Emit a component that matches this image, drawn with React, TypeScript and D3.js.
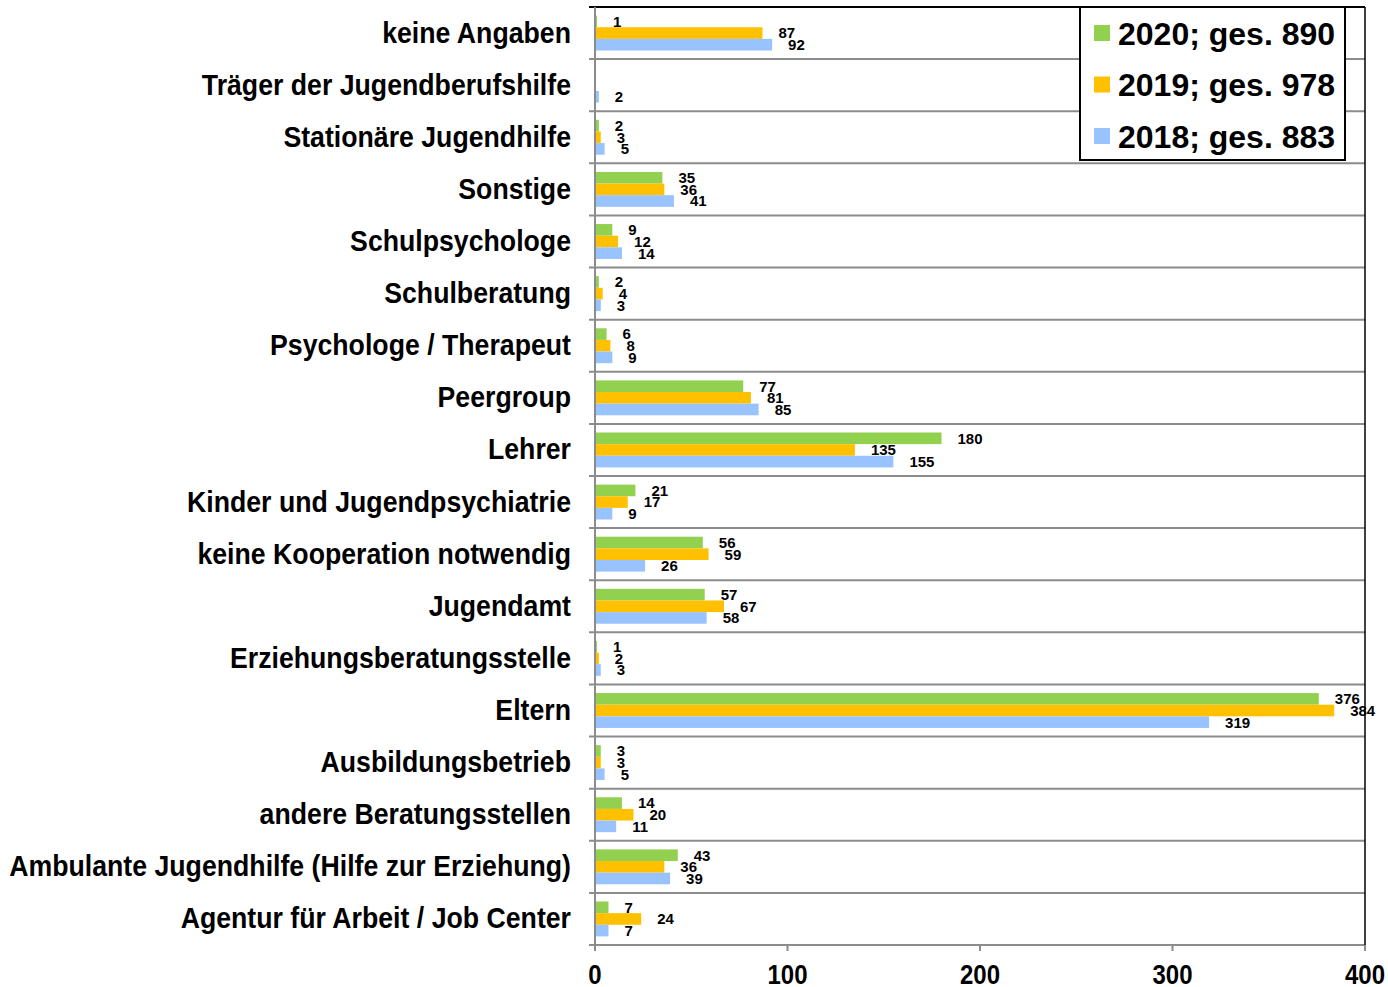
import React from 'react';
import * as d3 from 'd3';

// categories, top to bottom
const categories = [
  'keine Angaben',
  'Träger der Jugendberufshilfe',
  'Stationäre Jugendhilfe',
  'Sonstige',
  'Schulpsychologe',
  'Schulberatung',
  'Psychologe / Therapeut',
  'Peergroup',
  'Lehrer',
  'Kinder und Jugendpsychiatrie',
  'keine Kooperation notwendig',
  'Jugendamt',
  'Erziehungsberatungsstelle',
  'Eltern',
  'Ausbildungsbetrieb',
  'andere Beratungsstellen',
  'Ambulante Jugendhilfe (Hilfe zur Erziehung)',
  'Agentur für Arbeit / Job Center',
];

const values2020 = [1, null, 2, 35, 9, 2, 6, 77, 180, 21, 56, 57, 1, 376, 3, 14, 43, 7];
const values2019 = [87, null, 3, 36, 12, 4, 8, 81, 135, 17, 59, 67, 2, 384, 3, 20, 36, 24];
const values2018 = [92, 2, 5, 41, 14, 3, 9, 85, 155, 9, 26, 58, 3, 319, 5, 11, 39, 7];

const seriesNames = ['2020; ges. 890', '2019; ges. 978', '2018; ges. 883'];
const seriesColors = ['#92D050', '#FFC000', '#99C3FF'];
const xTicks = [0, 100, 200, 300, 400];

const W = 1388;
const H = 987;
const left = 595;
const right = 1365;
const top = 7;
const bottom = 945;
const font = '"Liberation Sans", Arial, sans-serif';

export default function App() {
  const series = [values2020, values2019, values2018];

  const x = d3.scaleLinear().domain([0, 400]).range([left, right]);
  const y = d3.scaleBand().domain(categories).range([top, bottom]).padding(0);
  const sub = d3.scaleBand<number>()
    .domain([0, 1, 2])
    .range([0, y.bandwidth()])
    .paddingInner(0)
    .paddingOuter(0.74);

  const bounds = categories.map((c) => y(c) as number).concat([bottom]);

  return (
    <svg width={W} height={H} style={{ position: 'absolute', left: 0, top: 0, background: '#fff' }}
      fontFamily={font} fontWeight="bold">
      {/* horizontal separators */}
      {bounds.map((b, i) => (
        <line key={'g' + i} x1={left - 6} x2={right} y1={b} y2={b}
          stroke={i === 0 ? '#000' : '#8c8c8c'} strokeWidth={2} />
      ))}
      {/* right border */}
      <line x1={right} x2={right} y1={top} y2={bottom} stroke="#000" strokeWidth={1.5} />

      {/* bars */}
      {series.map((vals, s) => (
        <g key={'s' + s}>
          {vals.map((v, i) => v == null ? null : (
            <g key={i}>
              <rect x={x(0)} y={(y(categories[i]) as number) + (sub(s) as number)}
                width={x(v) - x(0)} height={sub.bandwidth()}
                fill={seriesColors[s]} />
              <text x={x(v) + 16}
                y={(y(categories[i]) as number) + (sub(s) as number) + sub.bandwidth() / 2}
                dy="0.36em" fontSize={15} fill="#000">{v}</text>
            </g>
          ))}
        </g>
      ))}

      {/* left axis */}
      <line x1={left} x2={left} y1={top} y2={bottom + 6} stroke="#8c8c8c" strokeWidth={2} />

      {/* bottom axis */}
      {xTicks.map((t) => (
        <g key={'t' + t}>
          <line x1={x(t)} x2={x(t)} y1={bottom} y2={bottom + 6} stroke="#8c8c8c" strokeWidth={2} />
          <text transform={`translate(${x(t)},984) scale(1,1.15)`} textAnchor="middle"
            fontSize={24} fill="#000">{t}</text>
        </g>
      ))}

      {/* category labels */}
      {categories.map((c) => (
        <text key={c}
          transform={`translate(571,${(y(c) as number) + y.bandwidth() / 2 + 9.5}) scale(1,1.12)`}
          textAnchor="end" fontSize={26.7} fill="#000">{c}</text>
      ))}

      {/* legend */}
      <g>
        <rect x={1080} y={7} width={265} height={153} fill="#fff" stroke="#000" strokeWidth={2} />
        {seriesNames.map((n, i) => (
          <g key={n} transform={`translate(0,${33 + i * 51.5})`}>
            <rect x={1094} y={-8} width={16} height={16} fill={seriesColors[i]} />
            <text x={1118} y={0} dy="0.36em" fontSize={32} fill="#000">{n}</text>
          </g>
        ))}
      </g>
    </svg>
  );
}
